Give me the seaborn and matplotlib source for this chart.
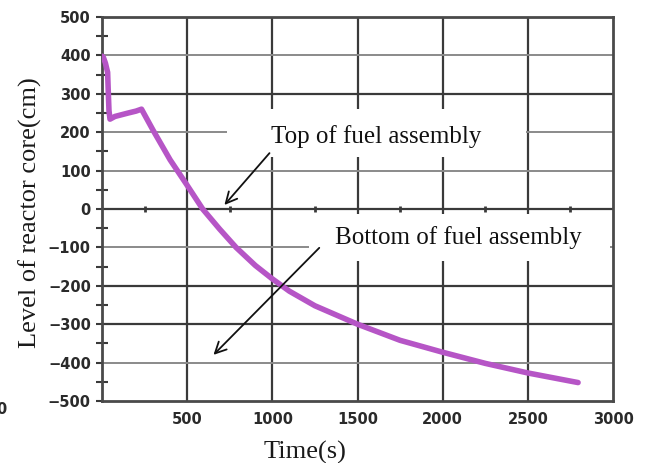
import numpy as np
import pandas as pd
import matplotlib
matplotlib.use("Agg")
import matplotlib.pyplot as plt
from matplotlib.patches import Rectangle
import seaborn as sns

# Core water level during the transient
time_s = [0, 8, 20, 33, 37, 41, 47, 76, 154, 200, 232, 300, 400, 495, 591,
          690, 787, 900, 1000, 1100, 1250, 1500, 1750, 2000, 2250, 2500, 2795]
level_cm = [398, 395, 380, 356, 304, 256, 234, 241, 250, 255, 260, 205, 128, 65, 0,
            -52, -100, -147, -182, -214, -252, -300, -342, -373, -402, -427, -452]

x_ticks = [500, 1000, 1500, 2000, 2500, 3000]
y_ticks = [-500, -400, -300, -200, -100, 0, 100, 200, 300, 400, 500]
dark_levels = [300, 0, -200, -300]
light_levels = [400, 200, 100, -100, -400]

top_label = "Top of fuel assembly"
bottom_label = "Bottom of fuel assembly"

df = pd.DataFrame({"Time": time_s, "Level": level_cm})

sns.set_style("white")
plt.rcParams["font.family"] = ["DejaVu Sans"]

fig = plt.figure(figsize=(6.5, 4.63), dpi=100)
ax = fig.add_axes([102 / 650, 62 / 463, 511 / 650, 384 / 463])

ax.set_xlim(0, 3000)
ax.set_ylim(-500, 500)

dark = "#3a3a3a"
light = "#8a8a8a"

# grid lines
for xv in x_ticks[:-1]:
    ax.axvline(xv, color=dark, lw=1.6, zorder=1)
for yv in dark_levels:
    ax.axhline(yv, color=dark, lw=1.6, zorder=1)
for yv in light_levels:
    ax.axhline(yv, color=light, lw=1.4, zorder=1)

# white panels behind the labels
ax.add_patch(Rectangle((731, 135), 2491 - 731, 260 - 135, facecolor="white",
                       edgecolor="none", zorder=2))
ax.add_patch(Rectangle((1216, -135), 2982 - 1216, 122, facecolor="white",
                       edgecolor="none", zorder=2))

# small marks along the zero line
ax.plot(np.arange(250, 3000, 500), np.zeros(6), ls="", marker="|", ms=4, mew=2,
        color=dark, zorder=2)

sns.lineplot(data=df, x="Time", y="Level", ax=ax, sort=False, estimator=None,
             color="#B655C6", lw=4, zorder=3)

for s in ax.spines.values():
    s.set_color("#4a4a4a")
    s.set_linewidth(2)
    s.set_visible(True)

ax.set_xticks(x_ticks)
ax.set_yticks(y_ticks)
ax.set_yticks(np.arange(-450, 500, 100), minor=True)
ax.tick_params(axis="x", which="major", length=0, pad=8, labelsize=10.5,
               labelcolor="#2a2a2a")
ax.tick_params(axis="y", which="major", length=4, width=1.5, color=dark, pad=4,
               labelsize=10.5, labelcolor="#2a2a2a", left=True)
ax.tick_params(axis="y", which="minor", length=8, width=1.5, color=dark,
               direction="inout", left=True)
for lab in ax.get_xticklabels() + ax.get_yticklabels():
    lab.set_fontweight("bold")

serif = ["Liberation Serif", "DejaVu Serif"]
ax.set_xlabel("Time(s)", family=serif, fontsize=19, color="#1a1a1a")
ax.set_ylabel("Level of reactor core(cm)", family=serif, fontsize=19, color="#1a1a1a")
ax.xaxis.set_label_coords(0.397, -0.133)
ax.xaxis.label.set_verticalalignment("center")
ax.yaxis.set_label_coords(-0.14, 0.49)
ax.yaxis.label.set_verticalalignment("center")

ax.text(1608, 190, top_label, family=serif, fontsize=18, ha="center",
        va="center", color="#111111", zorder=5)
ax.text(2094, -73, bottom_label, family=serif, fontsize=18, ha="center",
        va="center", color="#111111", zorder=5)

arrow = dict(arrowstyle="->", color="#111111", lw=1.3, mutation_scale=20)
ax.annotate("", xy=(708, 5), xytext=(994, 151), arrowprops=arrow, zorder=5)
ax.annotate("", xy=(643, -385), xytext=(1287, -96), arrowprops=arrow, zorder=5)

# stray tick label at the left edge
fig.text(1 / 650, 1 - 410 / 463, "0", ha="center", va="center", fontsize=10.5,
         fontweight="bold", color="#2a2a2a")

fig.savefig("out.png", dpi=100)
